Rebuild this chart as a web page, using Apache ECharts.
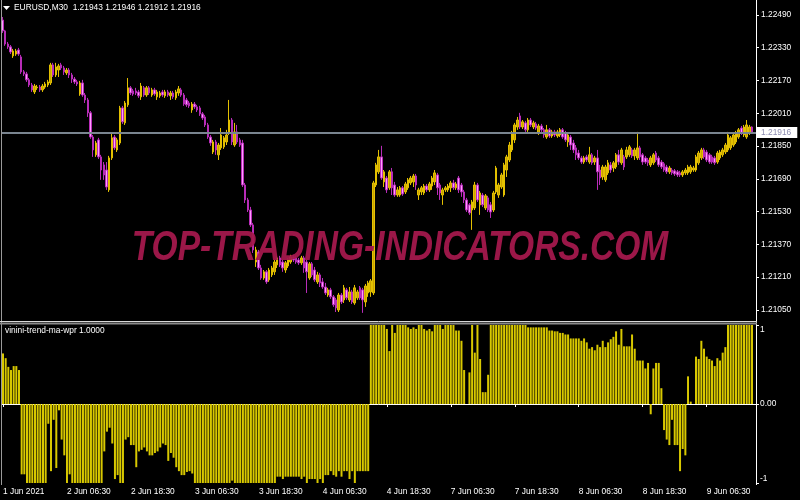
<!DOCTYPE html>
<html><head><meta charset="utf-8">
<script src="https://cdn.jsdelivr.net/npm/echarts@6/dist/echarts.min.js"></script>
<style>html,body{margin:0;padding:0;background:#000;}#c{width:800px;height:500px;}</style>
</head><body><div id="c"></div>
<script>
const symbolTitle = 'EURUSD,M30  1.21943 1.21946 1.21912 1.21916';
const indicatorTitle = 'vinini-trend-ma-wpr 1.0000';
const watermark = 'TOP-TRADING-INDICATORS.COM';
const tickLabels = ['1 Jun 2021','2 Jun 06:30','2 Jun 18:30','3 Jun 06:30','3 Jun 18:30','4 Jun 06:30','4 Jun 18:30','7 Jun 06:30','7 Jun 18:30','8 Jun 06:30','8 Jun 18:30','9 Jun 06:30'];
const priceTicks = [1.21050,1.21210,1.21370,1.21530,1.21690,1.21850,1.22010,1.22170,1.22330,1.22490];
const bidPrice = 1.21916;

const opens = [
1.22465,1.22412,1.22348,1.22334,1.22290,1.22299,1.22319,1.22285,1.22212,1.22202,
1.22173,1.22148,1.22114,1.22134,1.22138,1.22124,1.22138,1.22148,1.22158,1.22246,
1.22197,1.22221,1.22246,1.22231,1.22207,1.22221,1.22197,1.22177,1.22163,1.22104,
1.22158,1.22099,1.22075,1.22012,1.21894,1.21807,1.21880,1.21797,1.21758,1.21733,
1.21636,1.21792,1.21894,1.21831,1.21865,1.22036,1.21963,1.22051,1.22134,1.22119,
1.22119,1.22114,1.22090,1.22134,1.22099,1.22134,1.22099,1.22124,1.22090,1.22095,
1.22114,1.22095,1.22114,1.22095,1.22109,1.22085,1.22109,1.22124,1.22099,1.22075,
1.22060,1.22026,1.22055,1.22041,1.22036,1.22007,1.21992,1.21953,1.21894,1.21821,
1.21870,1.21807,1.21841,1.21846,1.21870,1.21914,1.21977,1.21855,1.21919,1.21880,
1.21865,1.21660,1.21587,1.21538,1.21465,1.21284,1.21333,1.21255,1.21206,1.21236,
1.21197,1.21221,1.21236,1.21270,1.21304,1.21284,1.21245,1.21265,1.21284,1.21309,
1.21304,1.21294,1.21280,1.21304,1.21284,1.21206,1.21275,1.21245,1.21187,1.21221,
1.21187,1.21162,1.21123,1.21148,1.21114,1.21099,1.21050,1.21123,1.21099,1.21148,
1.21099,1.21138,1.21084,1.21109,1.21158,1.21148,1.21089,1.21133,1.21138,1.21133,
1.21660,1.21724,1.21797,1.21675,1.21694,1.21646,1.21724,1.21660,1.21611,1.21611,
1.21646,1.21626,1.21646,1.21670,1.21675,1.21704,1.21611,1.21626,1.21621,1.21655,
1.21636,1.21655,1.21675,1.21709,1.21660,1.21611,1.21636,1.21636,1.21646,1.21670,
1.21646,1.21694,1.21660,1.21626,1.21587,1.21563,1.21538,1.21548,1.21660,1.21563,
1.21611,1.21548,1.21597,1.21563,1.21538,1.21626,1.21611,1.21650,1.21611,1.21733,
1.21782,1.21831,1.21880,1.21943,1.21997,1.21943,1.21963,1.21929,1.21977,1.21943,
1.21958,1.21914,1.21948,1.21929,1.21894,1.21929,1.21899,1.21919,1.21899,1.21904,
1.21929,1.21914,1.21870,1.21894,1.21865,1.21841,1.21816,1.21792,1.21772,1.21797,
1.21772,1.21807,1.21772,1.21792,1.21733,1.21699,1.21685,1.21719,1.21758,1.21743,
1.21748,1.21807,1.21768,1.21797,1.21797,1.21807,1.21831,1.21802,1.21792,1.21841,
1.21807,1.21792,1.21782,1.21758,1.21768,1.21816,1.21792,1.21772,1.21763,1.21748,
1.21724,1.21733,1.21729,1.21724,1.21719,1.21709,1.21719,1.21719,1.21724,1.21733,
1.21733,1.21768,1.21792,1.21831,1.21821,1.21807,1.21797,1.21792,1.21772,1.21792,
1.21807,1.21821,1.21831,1.21841,1.21855,1.21870,1.21894,1.21938,1.21904,1.21894,
1.21914,1.21943];
const closes = [
1.22412,1.22348,1.22334,1.22309,1.22314,1.22314,1.22299,1.22212,1.22202,1.22173,
1.22148,1.22124,1.22143,1.22138,1.22124,1.22143,1.22153,1.22163,1.22246,1.22197,
1.22236,1.22241,1.22231,1.22212,1.22221,1.22197,1.22177,1.22163,1.22153,1.22158,
1.22099,1.22075,1.22012,1.21894,1.21831,1.21865,1.21797,1.21733,1.21709,1.21650,
1.21792,1.21890,1.21841,1.21880,1.22036,1.21968,1.22060,1.22134,1.22109,1.22104,
1.22109,1.22095,1.22143,1.22099,1.22134,1.22109,1.22124,1.22104,1.22114,1.22109,
1.22099,1.22114,1.22099,1.22109,1.22090,1.22114,1.22129,1.22099,1.22055,1.22051,
1.22046,1.22055,1.22041,1.22026,1.22007,1.21987,1.21953,1.21894,1.21865,1.21870,
1.21831,1.21855,1.21904,1.21890,1.21904,1.21977,1.21870,1.21919,1.21870,1.21855,
1.21660,1.21587,1.21538,1.21465,1.21343,1.21343,1.21255,1.21206,1.21236,1.21187,
1.21245,1.21255,1.21284,1.21304,1.21270,1.21255,1.21280,1.21294,1.21309,1.21294,
1.21284,1.21280,1.21304,1.21255,1.21236,1.21275,1.21221,1.21197,1.21221,1.21182,
1.21162,1.21133,1.21148,1.21114,1.21075,1.21060,1.21123,1.21089,1.21158,1.21109,
1.21138,1.21089,1.21158,1.21138,1.21109,1.21099,1.21167,1.21182,1.21192,1.21670,
1.21758,1.21797,1.21694,1.21724,1.21636,1.21724,1.21646,1.21611,1.21636,1.21646,
1.21616,1.21665,1.21685,1.21694,1.21704,1.21660,1.21636,1.21646,1.21655,1.21636,
1.21665,1.21694,1.21719,1.21646,1.21621,1.21636,1.21646,1.21655,1.21670,1.21646,
1.21665,1.21636,1.21626,1.21587,1.21538,1.21524,1.21577,1.21660,1.21587,1.21621,
1.21563,1.21607,1.21538,1.21528,1.21621,1.21743,1.21660,1.21709,1.21758,1.21797,
1.21855,1.21914,1.21953,1.21977,1.21943,1.21968,1.21929,1.21977,1.21953,1.21963,
1.21938,1.21948,1.21929,1.21904,1.21929,1.21899,1.21919,1.21904,1.21919,1.21929,
1.21894,1.21880,1.21904,1.21855,1.21831,1.21807,1.21792,1.21772,1.21792,1.21782,
1.21807,1.21768,1.21792,1.21724,1.21694,1.21748,1.21748,1.21768,1.21733,1.21768,
1.21807,1.21772,1.21831,1.21748,1.21831,1.21846,1.21802,1.21831,1.21841,1.21797,
1.21772,1.21772,1.21768,1.21792,1.21807,1.21782,1.21758,1.21748,1.21733,1.21724,
1.21743,1.21719,1.21714,1.21709,1.21709,1.21724,1.21733,1.21748,1.21748,1.21743,
1.21797,1.21816,1.21831,1.21797,1.21782,1.21772,1.21772,1.21768,1.21816,1.21821,
1.21831,1.21855,1.21904,1.21890,1.21904,1.21914,1.21929,1.21914,1.21943,1.21953,
1.21943,1.21916];
const lows = [
1.22402,1.22339,1.22324,1.22299,1.22280,1.22290,1.22290,1.22202,1.22192,1.22163,
1.22138,1.22114,1.22104,1.22124,1.22114,1.22114,1.22129,1.22138,1.22148,1.22187,
1.22187,1.22187,1.22221,1.22197,1.22197,1.22182,1.22158,1.22153,1.22143,1.22095,
1.22090,1.22060,1.21992,1.21885,1.21797,1.21797,1.21787,1.21685,1.21685,1.21636,
1.21626,1.21782,1.21831,1.21821,1.21855,1.21958,1.21953,1.22041,1.22099,1.22095,
1.22099,1.22085,1.22075,1.22090,1.22090,1.22099,1.22090,1.22095,1.22075,1.22085,
1.22090,1.22085,1.22090,1.22075,1.22080,1.22075,1.22095,1.22090,1.22046,1.22041,
1.22036,1.22012,1.22031,1.22016,1.21997,1.21977,1.21943,1.21885,1.21851,1.21811,
1.21807,1.21782,1.21831,1.21836,1.21855,1.21904,1.21855,1.21846,1.21860,1.21846,
1.21650,1.21572,1.21528,1.21455,1.21328,1.21260,1.21245,1.21197,1.21197,1.21177,
1.21187,1.21211,1.21221,1.21255,1.21260,1.21236,1.21231,1.21255,1.21275,1.21284,
1.21275,1.21270,1.21270,1.21231,1.21133,1.21197,1.21211,1.21187,1.21177,1.21162,
1.21153,1.21123,1.21114,1.21104,1.21065,1.21040,1.21040,1.21079,1.21084,1.21099,
1.21089,1.21079,1.21075,1.21099,1.21099,1.21036,1.21065,1.21114,1.21114,1.21123,
1.21650,1.21714,1.21685,1.21650,1.21621,1.21636,1.21611,1.21602,1.21602,1.21602,
1.21607,1.21616,1.21636,1.21660,1.21650,1.21636,1.21587,1.21611,1.21611,1.21626,
1.21626,1.21636,1.21660,1.21611,1.21587,1.21563,1.21626,1.21626,1.21626,1.21636,
1.21636,1.21621,1.21602,1.21572,1.21528,1.21514,1.21441,1.21538,1.21577,1.21514,
1.21553,1.21538,1.21528,1.21499,1.21528,1.21616,1.21597,1.21641,1.21602,1.21699,
1.21772,1.21821,1.21865,1.21929,1.21933,1.21933,1.21919,1.21919,1.21943,1.21933,
1.21929,1.21904,1.21919,1.21890,1.21885,1.21890,1.21890,1.21894,1.21890,1.21894,
1.21885,1.21870,1.21846,1.21831,1.21816,1.21782,1.21782,1.21763,1.21763,1.21772,
1.21763,1.21758,1.21758,1.21636,1.21660,1.21685,1.21675,1.21709,1.21719,1.21724,
1.21738,1.21758,1.21758,1.21733,1.21787,1.21797,1.21792,1.21782,1.21782,1.21782,
1.21758,1.21763,1.21753,1.21748,1.21758,1.21772,1.21748,1.21738,1.21724,1.21714,
1.21714,1.21709,1.21704,1.21699,1.21699,1.21699,1.21709,1.21709,1.21714,1.21724,
1.21724,1.21758,1.21782,1.21787,1.21772,1.21763,1.21763,1.21758,1.21763,1.21782,
1.21797,1.21811,1.21821,1.21831,1.21846,1.21860,1.21885,1.21904,1.21894,1.21885,
1.21904,1.21912];
const highs = [
1.22480,1.22417,1.22358,1.22343,1.22324,1.22324,1.22329,1.22295,1.22221,1.22212,
1.22182,1.22158,1.22153,1.22148,1.22148,1.22153,1.22163,1.22173,1.22256,1.22256,
1.22256,1.22251,1.22256,1.22241,1.22231,1.22231,1.22207,1.22187,1.22173,1.22168,
1.22173,1.22109,1.22085,1.22021,1.21904,1.21875,1.21890,1.21807,1.21772,1.21772,
1.21802,1.21914,1.21904,1.21890,1.22046,1.22046,1.22070,1.22182,1.22143,1.22129,
1.22134,1.22124,1.22158,1.22143,1.22143,1.22143,1.22134,1.22134,1.22124,1.22119,
1.22124,1.22124,1.22124,1.22119,1.22119,1.22124,1.22143,1.22134,1.22109,1.22085,
1.22070,1.22065,1.22065,1.22051,1.22046,1.22016,1.22002,1.21963,1.21904,1.21880,
1.21880,1.21865,1.21938,1.21899,1.21929,1.22075,1.21987,1.21963,1.21953,1.21890,
1.21880,1.21670,1.21597,1.21553,1.21475,1.21358,1.21343,1.21270,1.21245,1.21245,
1.21255,1.21265,1.21294,1.21314,1.21314,1.21294,1.21289,1.21304,1.21319,1.21319,
1.21314,1.21304,1.21314,1.21314,1.21294,1.21284,1.21284,1.21260,1.21236,1.21231,
1.21206,1.21182,1.21158,1.21158,1.21123,1.21109,1.21133,1.21133,1.21172,1.21158,
1.21162,1.21148,1.21172,1.21148,1.21167,1.21158,1.21177,1.21192,1.21201,1.21680,
1.21768,1.21831,1.21851,1.21733,1.21704,1.21733,1.21743,1.21675,1.21650,1.21655,
1.21655,1.21675,1.21694,1.21704,1.21714,1.21714,1.21646,1.21655,1.21665,1.21665,
1.21675,1.21704,1.21733,1.21719,1.21670,1.21646,1.21655,1.21665,1.21680,1.21685,
1.21675,1.21704,1.21670,1.21636,1.21597,1.21572,1.21587,1.21675,1.21670,1.21631,
1.21621,1.21616,1.21607,1.21577,1.21631,1.21753,1.21670,1.21719,1.21768,1.21807,
1.21870,1.21924,1.21963,1.21992,1.22012,1.21977,1.21973,1.21987,1.21987,1.21973,
1.21968,1.21958,1.21958,1.21938,1.21953,1.21938,1.21929,1.21929,1.21929,1.21938,
1.21938,1.21924,1.21914,1.21904,1.21880,1.21855,1.21831,1.21802,1.21802,1.21807,
1.21846,1.21816,1.21802,1.21831,1.21758,1.21758,1.21758,1.21782,1.21772,1.21777,
1.21816,1.21831,1.21841,1.21807,1.21846,1.21855,1.21841,1.21841,1.21919,1.21851,
1.21816,1.21802,1.21792,1.21802,1.21816,1.21826,1.21802,1.21782,1.21772,1.21758,
1.21753,1.21743,1.21738,1.21733,1.21729,1.21733,1.21743,1.21758,1.21758,1.21753,
1.21807,1.21826,1.21841,1.21841,1.21831,1.21816,1.21807,1.21802,1.21826,1.21831,
1.21841,1.21865,1.21919,1.21899,1.21914,1.21924,1.21938,1.21948,1.21953,1.21977,
1.21953,1.21946];
const trendValues = [
0.64,0.58,0.47,0.43,0.48,0.48,0.43,-0.89,-0.89,-1,
-1,-1,-1,-1,-1,-1,-1,-0.25,-0.85,-0.2,
-0.81,-0.08,-0.45,-0.65,-1,-0.89,-1,-1,-1,-1,
-1,-1,-1,-1,-1,-1,-1,-1,-0.6,-0.35,
-0.3,-0.5,-0.95,-0.9,-1,-1,-0.45,-0.42,-0.52,-0.52,
-0.8,-0.6,-0.58,-0.55,-0.6,-0.65,-0.65,-0.62,-0.6,-0.55,
-0.5,-0.52,-0.72,-0.62,-0.68,-0.8,-0.85,-0.9,-0.9,-0.86,
-0.85,-0.88,-1,-1,-1,-1,-1,-1,-1,-1,
-1,-1,-1,-1,-1,-1,-0.97,-1,-1,-1,
-1,-1,-1,-1,-1,-1,-1,-1,-1,-1,
-1,-1,-1,-0.92,-0.92,-0.95,-0.92,-0.92,-0.92,-0.92,
-0.92,-0.92,-0.95,-0.92,-1,-0.95,-0.95,-0.95,-1,-0.95,
-1,-0.9,-0.9,-0.85,-0.9,-0.92,-0.85,-0.92,-0.85,-0.85,
-0.95,-0.85,-1,-0.85,-0.85,-0.85,-0.85,-0.85,
1,1,1,1,1,1,0.95,0.67,1,0.9,1,1,
1,1,0.97,0.95,0.97,0.95,1,1,0.95,0.93,0.95,0.92,
1,1,1,0.95,1,1,1,1,0.93,0.93,0.8,
0.43,0,0.4,1,0.65,1,0.57,0.15,0.15,0.37,
1,1,1,1,1,1,1,1,1,1,1,1,1,1,
0.97,0.97,0.97,0.97,0.97,0.97,0.97,0.97,0.93,0.93,0.92,0.92,
0.9,0.9,0.88,0.88,0.83,0.83,0.83,0.83,0.8,0.83,
0.78,0.7,0.72,0.68,0.75,0.72,0.8,0.72,0.78,0.82,0.85,0.92,0.75,
0.95,0.73,0.73,0.73,0.88,0.7,0.55,0.55,0.55,0.45,0.52,
-0.13,0.45,0.52,0.52,0.2,-0.33,-0.45,-0.52,-0.2,-0.52,-0.52,-0.85,-0.57,-0.65,
0.35,0.03,0,0.6,0.57,0.8,0.7,0.6,0.57,0.55,0.48,0.58,0.55,0.65,0.72,
1,1,1,1,1,1,1,1,1,1];

const N = 283; // category slots (one empty slot on the right, as in MT4 shift)
const STEP = 24;
const categories = [];
for (let i = 0; i < N; i++) categories.push(i % STEP === 0 && tickLabels[i / STEP] ? tickLabels[i / STEP] : '');
const candles = opens.map((o, i) => [o, closes[i], lows[i], highs[i]]);

const FONT = "'Liberation Sans', Arial, sans-serif";
const FS = 8.4;
const showEvery = (idx) => idx % STEP === 0;

const chart = echarts.init(document.getElementById('c'), null, {renderer: 'canvas'});
chart.setOption({
  backgroundColor: '#000000',
  animation: false,
  textStyle: {fontFamily: FONT},
  grid: [
    {left: 1.2, top: 2, width: 754.8, height: 318},
    {left: 1.2, top: 325, width: 754.8, height: 158}
  ],
  xAxis: [
    {type: 'category', gridIndex: 0, data: categories, boundaryGap: true,
     axisLine: {show: false}, axisTick: {show: false}, axisLabel: {show: false}, splitLine: {show: false}},
    {type: 'category', gridIndex: 1, data: categories, boundaryGap: true,
     axisLine: {show: true, lineStyle: {color: '#ffffff', width: 1}},
     axisTick: {show: true, interval: (i) => showEvery(i), alignWithLabel: true, length: 3, lineStyle: {color: '#ffffff'}},
     axisLabel: {show: true, interval: (i) => showEvery(i), align: 'left', color: '#ffffff', fontSize: FS, fontFamily: FONT, margin: 5},
     splitLine: {show: false}}
  ],
  yAxis: [
    {type: 'value', gridIndex: 0, position: 'right', min: 1.21001, max: 1.22553, scale: true,
     splitLine: {show: false},
     axisLine: {show: true, lineStyle: {color: '#ffffff'}},
     axisTick: {show: true, length: 3, customValues: priceTicks, lineStyle: {color: '#ffffff'}},
     axisLabel: {show: true, customValues: priceTicks, formatter: (v) => v.toFixed(5), color: '#ffffff', fontSize: FS, fontFamily: FONT, margin: 5}},
    {type: 'value', gridIndex: 1, position: 'right', min: -1, max: 1, interval: 1,
     splitLine: {show: false},
     axisLine: {show: true, lineStyle: {color: '#ffffff'}},
     axisTick: {show: true, length: 3, lineStyle: {color: '#ffffff'}},
     axisLabel: {show: true, color: '#ffffff', fontSize: FS, fontFamily: FONT, margin: 4,
       formatter: (v) => v === 1 ? '{t|1}' : (v === -1 ? '{b|-1}' : '{m|0.00}'),
       rich: {
         t: {padding: [10, 0, 0, 0], color: '#ffffff', fontSize: FS, fontFamily: FONT},
         b: {padding: [0, 0, 8, 0], color: '#ffffff', fontSize: FS, fontFamily: FONT},
         m: {color: '#ffffff', fontSize: FS, fontFamily: FONT}
       }}}
  ],
  series: [
    {type: 'candlestick', xAxisIndex: 0, yAxisIndex: 0, data: candles, barWidth: 2,
     itemStyle: {color: '#c9a200', color0: '#ff9cff', borderColor: '#e3c000', borderColor0: '#b82cb8', borderWidth: 1},
     markLine: {silent: true, precision: 5, symbol: ['none', 'none'],
       lineStyle: {color: '#7a8590', width: 2, type: 'solid'},
       label: {show: true, position: 'end', distance: 1, formatter: (p) => Number(p.value).toFixed(5),
         backgroundColor: '#ffffff', color: '#8c8cb0', fontSize: FS, fontFamily: FONT, padding: [2, 6, 1, 4]},
       data: [{yAxis: bidPrice}]}},
    {type: 'bar', xAxisIndex: 1, yAxisIndex: 1, data: trendValues, barWidth: 2,
     itemStyle: {color: '#d8c800'}}
  ],
  graphic: [
    {type: 'line', shape: {x1: 1.5, y1: 0, x2: 1.5, y2: 485}, style: {stroke: '#9a9a9a', lineWidth: 1}, z: 50},
    {type: 'line', shape: {x1: 756.5, y1: 0, x2: 756.5, y2: 485}, style: {stroke: '#ffffff', lineWidth: 1}, z: 50},
    {type: 'line', shape: {x1: 0, y1: 321.5, x2: 757, y2: 321.5}, style: {stroke: '#d8d8d8', lineWidth: 1}, z: 50},
    {type: 'line', shape: {x1: 0, y1: 323.5, x2: 757, y2: 323.5}, style: {stroke: '#8a8a8a', lineWidth: 2}, z: 50},
    {type: 'polygon', shape: {points: [[3, 6], [10, 6], [6.5, 10]]}, style: {fill: '#ffffff'}, z: 60},
    {type: 'text', x: 14, y: 8, style: {text: symbolTitle, fill: '#ffffff', font: FS + 'px ' + FONT, textVerticalAlign: 'middle'}, z: 60},
    {type: 'text', x: 5, y: 331, style: {text: indicatorTitle, fill: '#ffffff', font: FS + 'px ' + FONT, textVerticalAlign: 'middle'}, z: 60},
    {type: 'text', x: 400, y: 248, scaleX: 0.78, style: {text: watermark, fill: '#a3184c', opacity: 0.95,
      font: 'italic bold 43px ' + FONT, textAlign: 'center', textVerticalAlign: 'middle'}, z: 40}
  ]
});
</script></body></html>
